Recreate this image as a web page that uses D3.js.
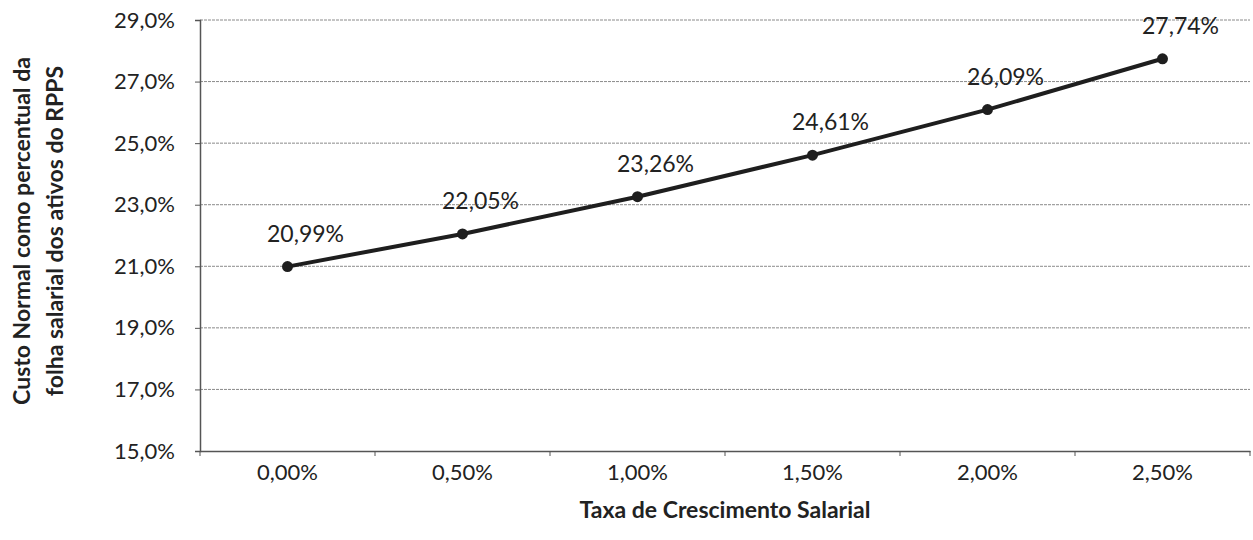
<!DOCTYPE html>
<html>
<head>
<meta charset="utf-8">
<script src="https://cdn.jsdelivr.net/npm/d3@7"></script>
<style>
  body { margin: 0; background: #fff; }
  text { font-family: Lato, "Open Sans", sans-serif; fill: #222; }
</style>
</head>
<body>
<svg class="view" width="1253" height="540"></svg>
<script>
// data
var categories = ['0,00%', '0,50%', '1,00%', '1,50%', '2,00%', '2,50%'];
var values = [20.99, 22.05, 23.26, 24.61, 26.09, 27.74];
var yTicks = [15, 17, 19, 21, 23, 25, 27, 29];

var svg = d3.select('.view'),
    margin = {top: 20, right: 3, bottom: 89, left: 200},
    width = +svg.attr('width') - margin.left - margin.right,
    height = +svg.attr('height') - margin.top - margin.bottom;

var fmt = function (v, n) {
    return v.toFixed(n).replace('.', ',') + '%';
};

var x = d3.scaleBand().domain(categories).range([0, width]);
var y = d3.scaleLinear().domain([15, 29]).range([height, 0]);

var g = svg.append('g')
    .attr('transform', 'translate(' + margin.left + ',' + margin.top + ')');

// gridlines
g.append('g')
    .selectAll('line')
    .data(yTicks.slice(1))
    .enter().append('line')
    .attr('x1', 0)
    .attr('x2', width)
    .attr('y1', function (d) { return y(d); })
    .attr('y2', function (d) { return y(d); })
    .attr('stroke', '#8a8a8a')
    .attr('stroke-dasharray', '3,1')
    .attr('stroke-width', 1);

// y axis
var yAxis = g.append('g')
    .call(d3.axisLeft(y).tickValues(yTicks).tickSize(5).tickPadding(20)
        .tickFormat(function (d) { return fmt(d, 1); }));
yAxis.select('.domain').attr('stroke', '#555').attr('stroke-width', 1.5);
yAxis.selectAll('.tick line').attr('stroke', '#555');
yAxis.selectAll('text')
    .style('font-size', '22px')
    .attr('fill', '#333');

// x axis with ticks on category boundaries
var xAxis = g.append('g')
    .attr('transform', 'translate(0,' + height + ')')
    .call(d3.axisBottom(x).tickSize(0).tickPadding(13));
xAxis.select('.domain').attr('stroke', '#555').attr('stroke-width', 1.5);
xAxis.selectAll('text')
    .style('font-size', '22px')
    .attr('fill', '#333');

g.append('g')
    .selectAll('line')
    .data(categories.concat(['end']))
    .enter().append('line')
    .attr('x1', function (d, i) { return i * x.bandwidth(); })
    .attr('x2', function (d, i) { return i * x.bandwidth(); })
    .attr('y1', height)
    .attr('y2', height + 5)
    .attr('stroke', '#555');

// line + markers
var pts = categories.map(function (c, i) {
    return {cat: c, value: values[i]};
});

var line = d3.line()
    .x(function (d) { return x(d.cat) + x.bandwidth() / 2; })
    .y(function (d) { return y(d.value); });

g.append('path')
    .datum(pts)
    .attr('d', line)
    .attr('fill', 'none')
    .attr('stroke', '#1e1e1e')
    .attr('stroke-width', 4);

g.append('g')
    .selectAll('circle')
    .data(pts)
    .enter().append('circle')
    .attr('cx', function (d) { return x(d.cat) + x.bandwidth() / 2; })
    .attr('cy', function (d) { return y(d.value); })
    .attr('r', 5.5)
    .attr('fill', '#1e1e1e');

// data labels
g.append('g')
    .selectAll('text')
    .data(pts)
    .enter().append('text')
    .attr('x', function (d) { return x(d.cat) + x.bandwidth() / 2 + 18; })
    .attr('y', function (d) { return y(d.value) - 25; })
    .attr('text-anchor', 'middle')
    .style('font-size', '23px')
    .attr('fill', '#333')
    .text(function (d) { return fmt(d.value, 2); });

// axis titles
svg.append('text')
    .attr('x', margin.left + width / 2)
    .attr('y', 518)
    .attr('text-anchor', 'middle')
    .style('font-size', '23px')
    .style('font-weight', 'bold')
    .text('Taxa de Crescimento Salarial');

var yt = svg.append('text')
    .attr('transform', 'translate(0,231) rotate(-90)')
    .attr('text-anchor', 'middle')
    .style('font-size', '23px')
    .style('font-weight', 'bold');
yt.append('tspan').attr('x', 0).attr('y', 30).text('Custo Normal como percentual da');
yt.append('tspan').attr('x', 0).attr('y', 63).text('folha salarial dos ativos do RPPS');
</script>
</body>
</html>
